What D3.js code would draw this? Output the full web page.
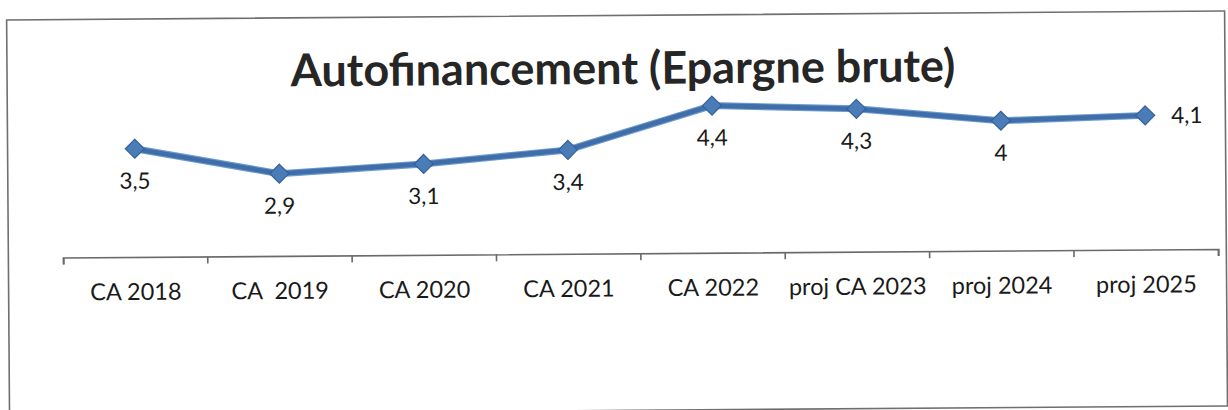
<!DOCTYPE html>
<html>
<head>
<meta charset="utf-8">
<script src="https://cdn.jsdelivr.net/npm/d3@7/dist/d3.min.js"></script>
<style>
  html, body { margin: 0; padding: 0; background: #fff; }
  svg { display: block; }
  text { font-family: Lato, "Open Sans", sans-serif; fill: #1a1a1a; }
</style>
</head>
<body>
<svg id="chart" width="1228" height="410"></svg>
<script>
// Autofinancement (épargne brute), en millions
const categories = ["CA 2018", "CA  2019", "CA 2020", "CA 2021", "CA 2022", "proj CA 2023", "proj 2024", "proj 2025"];
const values = [3.5, 2.9, 3.1, 3.4, 4.4, 4.3, 4.0, 4.1];
const valueLabels = ["3,5", "2,9", "3,1", "3,4", "4,4", "4,3", "4", "4,1"];
const title = "Autofinancement (Epargne brute)";

const W = 1228, H = 410;
const svg = d3.select("#chart");

// whole sheet is slightly tilted
const root = svg.append("g")
  .attr("transform", `rotate(-0.42 ${W / 2} ${H / 2})`);

// chart frame
root.append("rect")
  .attr("x", 8).attr("y", 15.5)
  .attr("width", 1218).attr("height", 395)
  .attr("fill", "none")
  .attr("stroke", "#6f6f6f")
  .attr("stroke-width", 1.6);

// title
root.append("text")
  .attr("x", 624).attr("y", 84)
  .attr("text-anchor", "middle")
  .style("font-size", "45px")
  .style("font-weight", "700")
  .style("fill", "#262626")
  .text(title);

const x = d3.scaleBand().domain(categories).range([63, 1218]).padding(0);
const y = d3.scaleLinear().domain([1, 5]).range([253.5, 80.3]);

// category axis
const axis = d3.axisBottom(x).tickSize(7).tickSizeOuter(7).tickFormat(() => "");
const ag = root.append("g").attr("transform", `translate(0,${y(1)})`).call(axis);
ag.select(".domain").attr("stroke", "#6a6a6a").attr("stroke-width", 1.6);
// ticks sit on the band boundaries
ag.selectAll(".tick").remove();
const bounds = categories.map(c => x(c)).concat([x.range()[1]]);
ag.selectAll("line.bound").data(bounds).enter().append("line")
  .attr("class", "bound")
  .attr("x1", d => d).attr("x2", d => d)
  .attr("y1", 0).attr("y2", 7)
  .attr("stroke", "#6a6a6a").attr("stroke-width", 1.6);
ag.selectAll("text.cat").data(categories).enter().append("text")
  .attr("class", "cat")
  .attr("x", d => x(d) + x.bandwidth() / 2)
  .attr("y", 43)
  .attr("text-anchor", "middle")
  .attr("xml:space", "preserve")
  .style("white-space", "pre")
  .style("font-size", "23.5px")
  .text(d => d);

const cx = (d, i) => x(categories[i]) + x.bandwidth() / 2;

// line
const line = d3.line().x((d, i) => cx(d, i)).y(d => y(d));
root.append("path")
  .datum(values)
  .attr("d", line)
  .attr("fill", "none")
  .attr("stroke", "#6d9bd1")
  .attr("stroke-width", 7)
  .attr("stroke-linejoin", "round");
root.append("path")
  .datum(values)
  .attr("d", line)
  .attr("fill", "none")
  .attr("stroke", "#3f6ea9")
  .attr("stroke-width", 4.8)
  .attr("stroke-linejoin", "round");

// diamond markers
const diamond = d3.symbol().type(d3.symbolDiamond2).size(230);
root.selectAll("path.mk").data(values).enter().append("path")
  .attr("class", "mk")
  .attr("transform", (d, i) => `translate(${cx(d, i)},${y(d)})`)
  .attr("d", diamond)
  .attr("fill", "#4a7cb8")
  .attr("stroke", "#35609a")
  .attr("stroke-width", 1.2);

// value labels: below each point, last one to the right
root.selectAll("text.val").data(values).enter().append("text")
  .attr("class", "val")
  .attr("x", (d, i) => i === values.length - 1 ? cx(d, i) + 26 : cx(d, i))
  .attr("y", (d, i) => i === values.length - 1 ? y(d) + 8 : y(d) + 40)
  .attr("text-anchor", (d, i) => i === values.length - 1 ? "start" : "middle")
  .style("font-size", "22.5px")
  .text((d, i) => valueLabels[i]);
</script>
</body>
</html>
